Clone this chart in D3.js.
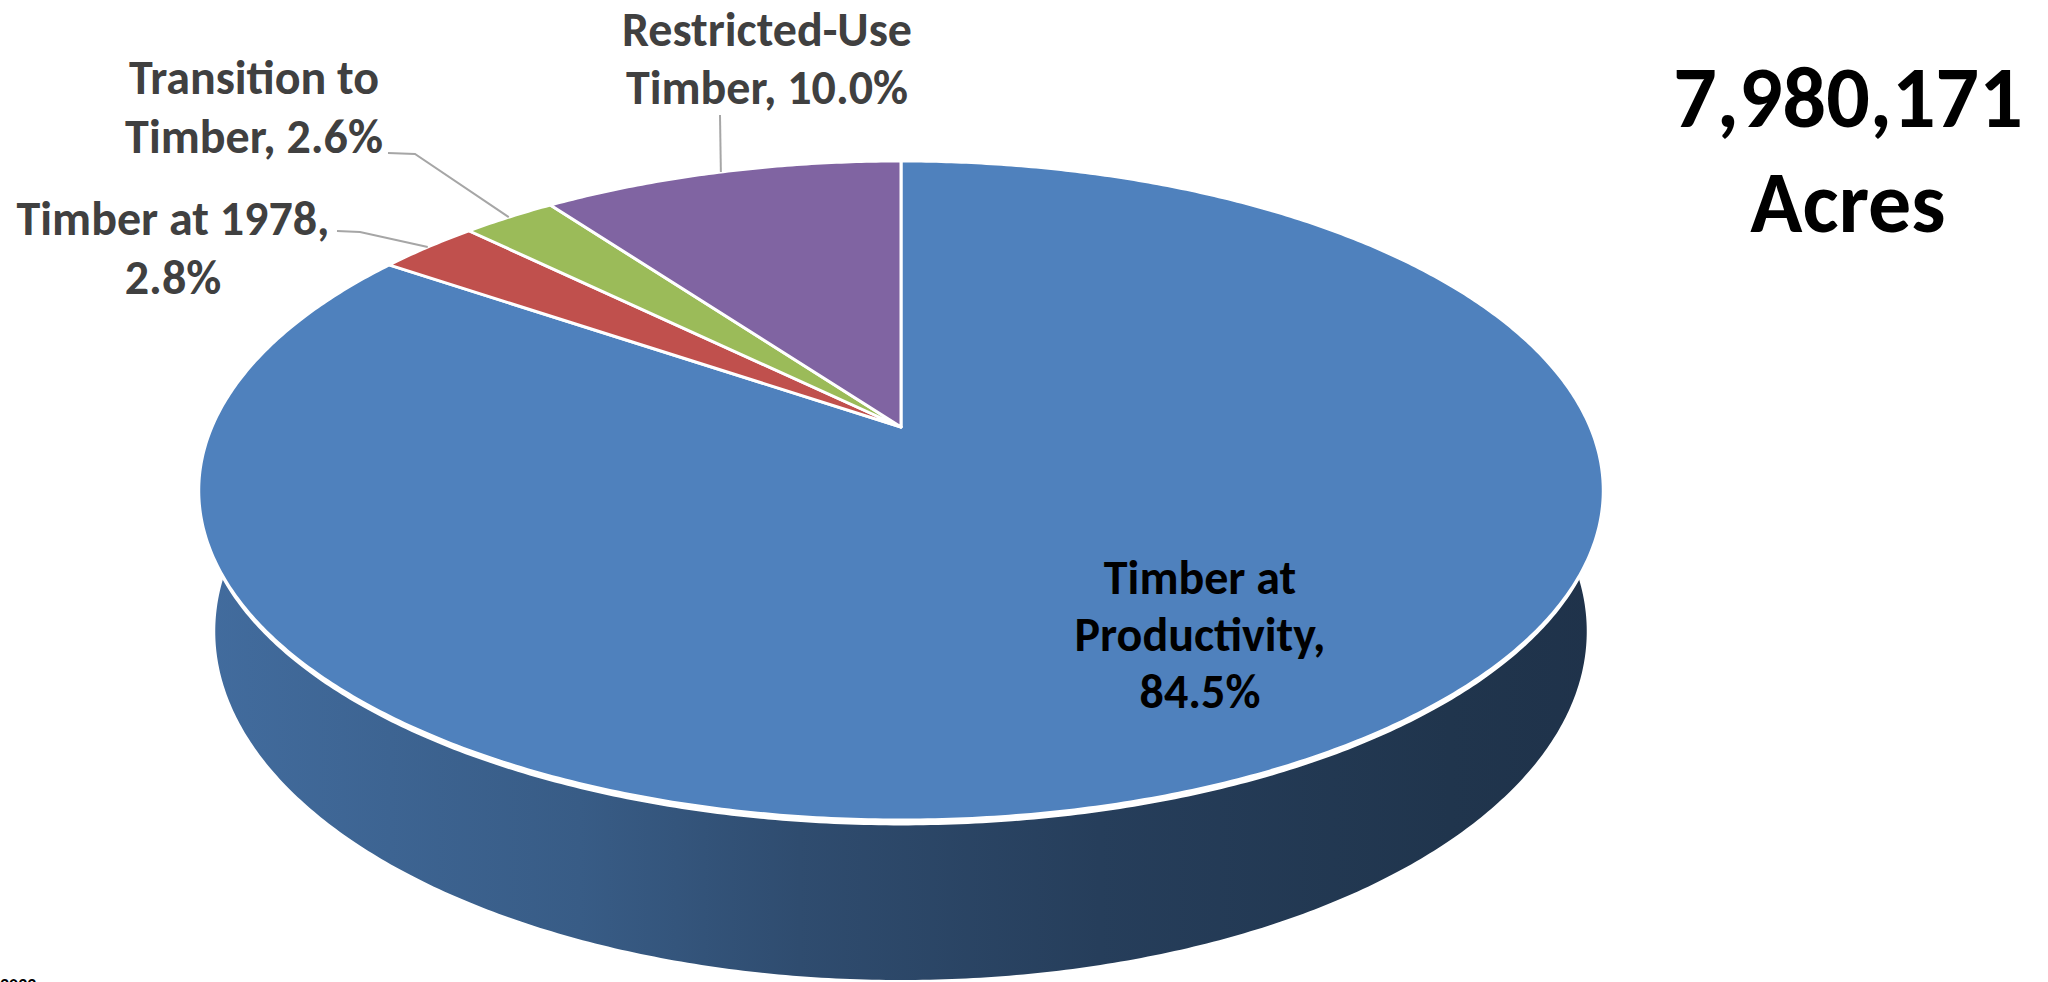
<!DOCTYPE html>
<html>
<head>
<meta charset="utf-8">
<script src="https://cdn.jsdelivr.net/npm/d3@7"></script>
<style>
  html, body { margin: 0; padding: 0; background: #ffffff; }
  svg { display: block; }
  text { font-family: Carlito, Calibri, Lato, "Open Sans", sans-serif; font-weight: 700; }
</style>
</head>
<body>
<svg id="chart" width="2048" height="982"></svg>
<script>
// ---- data -------------------------------------------------------------
const categories = ["Timber at Productivity", "Timber at 1978", "Transition to Timber", "Restricted-Use Timber"];
const shares = [84.5, 2.8, 2.6, 10.0];            // percent of total acreage
const sliceColors = ["#4F81BD", "#C0504D", "#9BBB59", "#8064A2"];
const labelLines = [                                  // "{v}" is replaced by the share
  ["Timber at", "Productivity,", "{v}"],
  ["Timber at 1978,", "{v}"],
  ["Transition to", "Timber, {v}"],
  ["Restricted-Use", "Timber, {v}"]
];
const totalAcres = 7980171;
const totalUnit = "Acres";
const footnote = "2022";

// ---- layout -----------------------------------------------------------
const W = 2048, H = 982;
const view = { cx: 901, cy: 427, focal: 3174, dist: 4.606, tilt: Math.asin(0.4605), depth: 0.232, rim: 0.0075 };
const sinT = Math.sin(view.tilt), cosT = Math.cos(view.tilt);

// label anchors: centre x, first baseline, line step, colour, optional leader elbow points
const labelLayout = [
  { x: 1200, y: 594, step: 57, fill: "#000000", leader: null },
  { x: 173,  y: 235, step: 59, fill: "#404040", leader: [[337, 231], [360, 232]] },
  { x: 254,  y: 94,  step: 59, fill: "#404040", leader: [[388, 153], [415, 154]] },
  { x: 767,  y: 46,  step: 58, fill: "#404040", leader: [[720, 115]] }
];
const labelSize = 48;
const totalSize = 86;

const svg = d3.select("#chart");
svg.append("rect").attr("width", W).attr("height", H).attr("fill", "#ffffff");

// perspective projection of a point on the pie (angle clockwise from 12 o'clock,
// radius as a fraction of the pie radius, height above the top face)
function project(theta, r, y) {
  const x = r * Math.sin(theta), z = -r * Math.cos(theta);
  const v = y * cosT - z * sinT;
  const w = view.dist - (y * sinT + z * cosT);
  return [view.cx + view.focal * x / w, view.cy - view.focal * v / w];
}

function arcPoints(a0, a1, y) {
  const n = Math.max(2, Math.ceil(Math.abs(a1 - a0) / (Math.PI / 360)));
  return d3.range(n + 1).map(i => project(a0 + (a1 - a0) * i / n, 1, y));
}

const pie = d3.pie().sort(null).value(d => d)(shares);
const line = d3.line();

// wall shading: lighter at the left, darkening toward the right
const defs = svg.append("defs");
const wallStops = [[200, 0.5], [580, 0.96], [800, 1.48], [1100, 2.06], [1450, 2.5], [1610, 2.64]];
pie.forEach((p, i) => {
  const g = defs.append("linearGradient")
    .attr("id", "wall" + i).attr("gradientUnits", "userSpaceOnUse")
    .attr("x1", 200).attr("x2", 1610).attr("y1", 0).attr("y2", 0);
  wallStops.forEach(([x, k]) => {
    g.append("stop").attr("offset", (x - 200) / 1410)
      .attr("stop-color", d3.color(sliceColors[i]).darker(k).formatHex());
  });
});

// front outer wall (only the half facing the viewer) with a thin white rim on top
const gWall = svg.append("g");
pie.forEach((p, i) => {
  const a0 = Math.max(p.startAngle, Math.PI / 2);
  const a1 = Math.min(p.endAngle, 3 * Math.PI / 2);
  if (a1 <= a0) return;
  const pts = arcPoints(a0, a1, 0).concat(arcPoints(a1, a0, -view.depth));
  gWall.append("path").attr("d", line(pts) + "Z").attr("fill", `url(#wall${i})`);
  const rim = arcPoints(a0, a1, 0).concat(arcPoints(a1, a0, -view.rim));
  gWall.append("path").attr("d", line(rim) + "Z").attr("fill", "#ffffff");
});

// top faces
const gTop = svg.append("g");
pie.forEach((p, i) => {
  const pts = [project(0, 0, 0)].concat(arcPoints(p.startAngle, p.endAngle, 0));
  gTop.append("path").attr("d", line(pts) + "Z")
    .attr("fill", sliceColors[i])
    .attr("stroke", "#ffffff").attr("stroke-width", 3).attr("stroke-linejoin", "round");
});

// leader lines from the labels to the middle of each slice's rim
const fmt = d3.format(".1f");
const gLab = svg.append("g");
pie.forEach((p, i) => {
  const L = labelLayout[i];
  if (L.leader) {
    const end = project((p.startAngle + p.endAngle) / 2, 1, 0);
    gLab.append("path").attr("d", line(L.leader.concat([end])))
      .attr("fill", "none").attr("stroke", "#a6a6a6").attr("stroke-width", 2);
  }
  const t = gLab.append("text").attr("text-anchor", "middle")
    .attr("font-size", labelSize).attr("fill", L.fill);
  labelLines[i].forEach((s, j) => {
    t.append("tspan").attr("x", L.x).attr("y", L.y + j * L.step)
      .text(s.replace("{v}", fmt(shares[i]) + "%"));
  });
});

// total acreage
const total = svg.append("text").attr("text-anchor", "middle")
  .attr("font-size", totalSize).attr("fill", "#000000");
total.append("tspan").attr("x", 1848).attr("y", 127).text(d3.format(",")(totalAcres));
total.append("tspan").attr("x", 1848).attr("y", 232).text(totalUnit);

svg.append("text").attr("x", 0).attr("y", 991).attr("font-size", 18)
  .attr("font-weight", 400).attr("fill", "#000000").text(footnote);
</script>
</body>
</html>
